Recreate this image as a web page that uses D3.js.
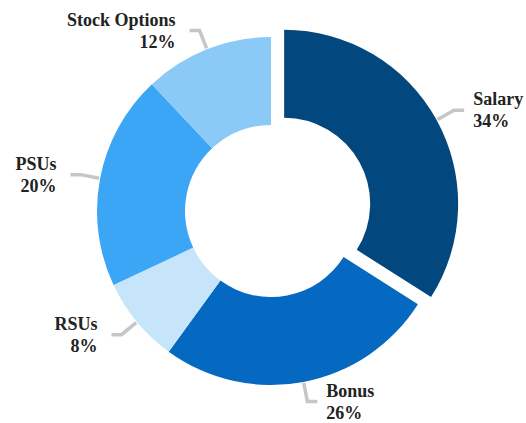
<!DOCTYPE html>
<html>
<head>
<meta charset="utf-8">
<script src="https://cdn.jsdelivr.net/npm/d3@7"></script>
<style>
  body { margin: 0; background: #fff; }
  text { font-family: "Liberation Serif", "Times New Roman", serif; font-weight: bold; font-size: 18px; fill: #222; }
</style>
</head>
<body>
<svg width="526" height="423"></svg>
<script>
var categories = ["Salary", "Bonus", "RSUs", "PSUs", "Stock Options"]
var values = [34, 26, 8, 20, 12]
var colors = ["#03477f", "#0669c1", "#c6e5fa", "#3ca6f6", "#8bcaf7"]

var cx = 271, cy = 211
var outerR = 174, innerR = 86
var explode = 15

var data = categories.map((c, i) => ({name: c, value: values[i], color: colors[i]}))

var pie = d3.pie()
  .sort(null)
  .value(d => d.value)

var arc = d3.arc()
  .innerRadius(innerR)
  .outerRadius(outerR)

var arcs = pie(data)

// salary slice is pulled out along its bisector
function shift(d) {
  if (d.data.name != "Salary") return [0, 0]
  var a = (d.startAngle + d.endAngle) / 2
  return [Math.sin(a) * explode, -Math.cos(a) * explode]
}

var g = d3.select("svg").append("g")
  .attr("transform", "translate(" + cx + "," + cy + ")")

g.selectAll("path.slice")
  .data(arcs)
  .enter()
  .append("path")
  .attr("class", "slice")
  .attr("d", arc)
  .attr("fill", d => d.data.color)
  .attr("transform", d => "translate(" + shift(d) + ")")

// leader lines: radial piece then a short horizontal piece
function leader(d) {
  var a = (d.startAngle + d.endAngle) / 2
  var s = shift(d)
  var r0 = outerR + 1, r1 = outerR + 20
  var p0 = [s[0] + Math.sin(a) * r0, s[1] - Math.cos(a) * r0]
  var p1 = [s[0] + Math.sin(a) * r1, s[1] - Math.cos(a) * r1]
  var side = Math.sin(a) >= 0 ? 1 : -1
  var p2 = [p1[0] + side * 10, p1[1]]
  return {pts: [p0, p1, p2], side: side}
}

g.selectAll("path.leader")
  .data(arcs)
  .enter()
  .append("path")
  .attr("class", "leader")
  .attr("d", d => d3.line()(leader(d).pts))
  .attr("fill", "none")
  .attr("stroke", "#c6c6c6")
  .attr("stroke-width", 3.5)

var labels = g.selectAll("text.label")
  .data(arcs)
  .enter()
  .append("text")
  .attr("class", "label")
  .attr("text-anchor", d => leader(d).side > 0 ? "start" : "end")

labels.each(function(d) {
  var L = leader(d)
  var end = L.pts[2]
  var x = end[0] + (L.side > 0 ? 9 : -14)
  var t = d3.select(this)
  t.append("tspan").attr("x", x).attr("y", end[1] - 5).text(d.data.name)
  t.append("tspan").attr("x", x).attr("y", end[1] + 17).text(d.data.value + "%")
})
</script>
</body>
</html>
